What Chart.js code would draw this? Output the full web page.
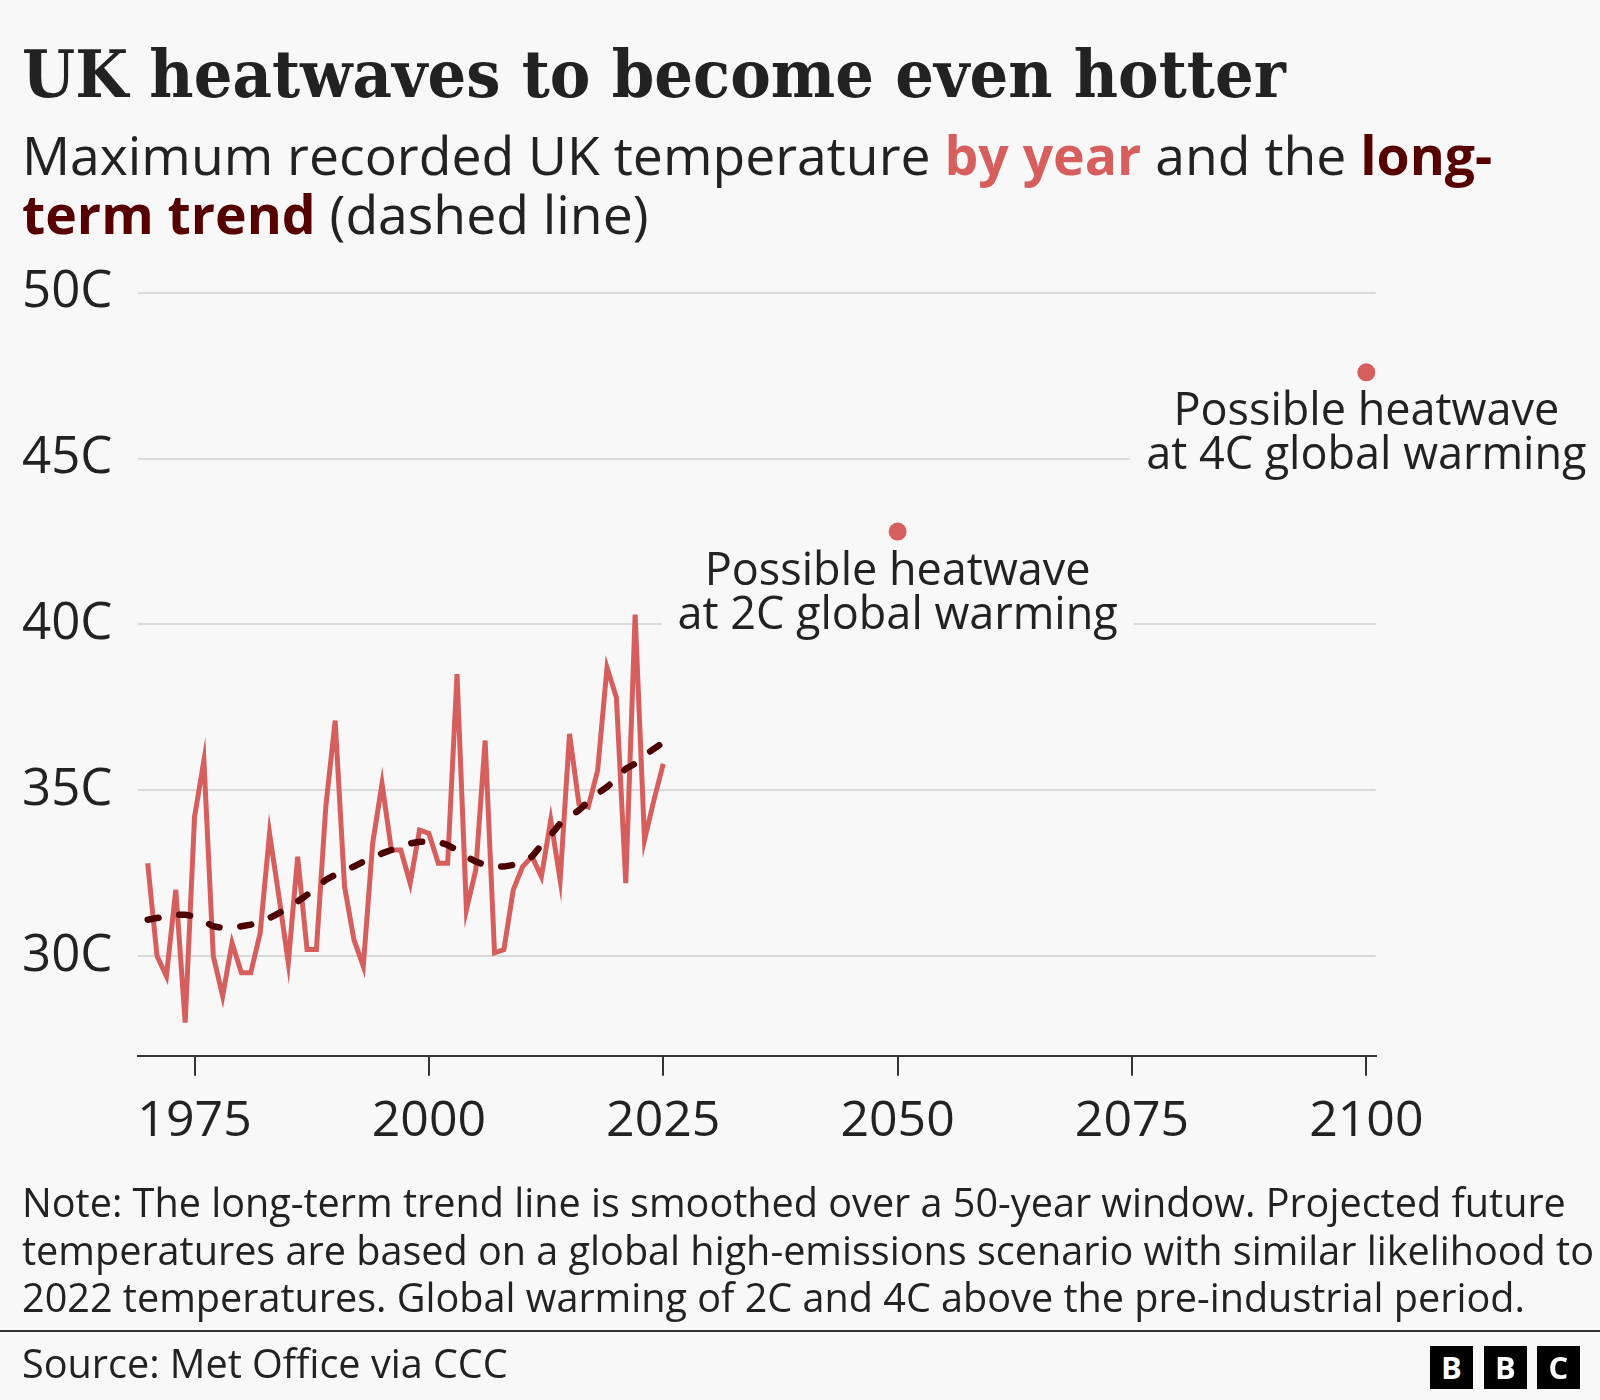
<!DOCTYPE html>
<html>
<head>
<meta charset="utf-8">
<script src="https://cdn.jsdelivr.net/npm/chart.js@4.4.1/dist/chart.umd.min.js"></script>
<style>
  body { margin: 0; background: #f8f8f8; font-family: 'Open Sans', sans-serif; color: #222; }
  #wrap { position: relative; width: 1600px; height: 1400px; overflow: hidden; }
  #chart { position: absolute; left: 0; top: 0; }
  .txt { position: absolute; left: 22px; white-space: nowrap; }
  #title { top: 39px; font-family: 'DejaVu Serif', serif; font-weight: bold; font-size: 66px; line-height: 70px; transform-origin: 0 0; }
  #subtitle { top: 125px; font-size: 53.5px; line-height: 59px; }
  #subtitle .yr { color: #d65e5d; font-weight: bold; }
  #subtitle .tr { color: #560000; font-weight: bold; }
  #note { top: 1179px; font-size: 39.6px; line-height: 47.5px; }
  #rule { position: absolute; left: 0; top: 1330px; width: 1600px; height: 2px; background: #333; }
  #source { top: 1343px; font-size: 39.6px; line-height: 40px; }
  .logo { position: absolute; top: 1346px; width: 43px; height: 43px; background: #000; color: #fff;
          font-family: 'Open Sans', sans-serif; font-weight: bold; font-size: 31px; line-height: 43px; text-align: center; }
</style>
</head>
<body>
<div id="wrap">
  <canvas id="chart" width="1600" height="1400"></canvas>
  <div id="title" class="txt">UK heatwaves to become even hotter</div>
  <div id="subtitle" class="txt">Maximum recorded UK temperature <span class="yr">by year</span> and the <span class="tr">long-</span><br><span class="tr">term trend</span> (dashed line)</div>
  <div id="note" class="txt">Note: The long-term trend line is smoothed over a 50-year window. Projected future<br>temperatures are based on a global high-emissions scenario with similar likelihood to<br>2022 temperatures. Global warming of 2C and 4C above the pre-industrial period.</div>
  <div id="rule"></div>
  <div id="source" class="txt">Source: Met Office via CCC</div>
  <div class="logo" style="left:1430px">B</div>
  <div class="logo" style="left:1484px">B</div>
  <div class="logo" style="left:1537px">C</div>
</div>
<script>
// yearly maximum temperature (C)
const years = [1970, 1971, 1972, 1973, 1974, 1975, 1976, 1977, 1978, 1979,
               1980, 1981, 1982, 1983, 1984, 1985, 1986, 1987, 1988, 1989,
               1990, 1991, 1992, 1993, 1994, 1995, 1996, 1997, 1998, 1999,
               2000, 2001, 2002, 2003, 2004, 2005, 2006, 2007, 2008, 2009,
               2010, 2011, 2012, 2013, 2014, 2015, 2016, 2017, 2018, 2019,
               2020, 2021, 2022, 2023, 2024, 2025];
const maxTemps = [32.8, 30.0, 29.4, 32.0, 28.0, 34.2, 35.9, 30.0, 28.8, 30.4,
                  29.5, 29.5, 30.7, 33.7, 31.8, 29.8, 33.0, 30.2, 30.2, 34.5,
                  37.1, 32.1, 30.5, 29.7, 33.4, 35.2, 33.2, 33.2, 32.2, 33.8,
                  33.7, 32.8, 32.8, 38.5, 31.4, 32.6, 36.5, 30.1, 30.2, 32.0,
                  32.7, 33.0, 32.4, 34.1, 32.3, 36.7, 34.6, 34.5, 35.6, 38.7,
                  37.8, 32.2, 40.3, 33.5, 34.7, 35.8];
// 50-year smoothed trend
const trendTemps = [31.1, 31.15, 31.2, 31.25, 31.25, 31.2, 31.05, 30.9, 30.85, 30.85,
                    30.9, 30.95, 31.05, 31.15, 31.3, 31.45, 31.65, 31.85, 32.05, 32.3,
                    32.45, 32.6, 32.7, 32.85, 32.95, 33.1, 33.2, 33.3, 33.4, 33.45,
                    33.45, 33.45, 33.35, 33.2, 33.0, 32.85, 32.75, 32.7, 32.7, 32.75,
                    32.85, 33.0, 33.35, 33.65, 34.0, 34.2, 34.4, 34.65, 34.9, 35.1,
                    35.35, 35.65, 35.8, 36.05, 36.25, 36.45];
// projected heatwaves
const projYears = [2050, 2100];
const projTemps = [42.8, 47.6];
const projLabels = [['Possible heatwave', 'at 2C global warming'],
                    ['Possible heatwave', 'at 4C global warming']];

const xTicks = [1975, 2000, 2025, 2050, 2075, 2100];
const yTicks = [30, 35, 40, 45, 50];

const red = '#d65e5d';
const maroon = '#4d0000';

// squeeze the serif title to the width of the original headline
const title = document.getElementById('title');
title.style.transform = 'scaleX(' + (1264 / title.offsetWidth) + ')';

const projLabelPlugin = {
    id: 'projLabels',
    afterDraw(chart) {
        const ctx = chart.ctx;
        const xs = chart.scales.x, ys = chart.scales.y;
        ctx.save();
        ctx.font = '45px "Open Sans"';
        ctx.textAlign = 'center';
        ctx.textBaseline = 'alphabetic';
        for (let i = 0; i < projYears.length; i++) {
            const px = xs.getPixelForValue(projYears[i]);
            const py = ys.getPixelForValue(projTemps[i]);
            const lines = projLabels[i];
            const w = Math.max(...lines.map(l => ctx.measureText(l).width)) + 32;
            ctx.fillStyle = '#f8f8f8';
            ctx.fillRect(px - w / 2, py + 14, w, 98);
            ctx.fillStyle = '#222';
            lines.forEach((l, j) => ctx.fillText(l, px, py + 53 + j * 44));
        }
        ctx.restore();
    }
};

new Chart(document.getElementById('chart'), {
    type: 'line',
    data: {
        datasets: [
            {
                data: years.map((y, i) => ({ x: y, y: trendTemps[i] })),
                borderColor: maroon,
                borderWidth: 6.5,
                borderDash: [11, 21],
                borderCapStyle: 'round',
                pointRadius: 0,
                tension: 0
            },
            {
                data: years.map((y, i) => ({ x: y, y: maxTemps[i] })),
                borderColor: red,
                borderWidth: 5,
                pointRadius: 0,
                tension: 0
            },
            {
                data: projYears.map((y, i) => ({ x: y, y: projTemps[i] })),
                showLine: false,
                pointRadius: 9,
                pointBackgroundColor: red,
                pointBorderWidth: 0
            }
        ]
    },
    options: {
        responsive: false,
        animation: false,
        layout: { padding: { left: 22, top: 292.7, right: 224.3, bottom: 244.3 } },
        plugins: { legend: { display: false }, tooltip: { enabled: false } },
        scales: {
            x: {
                type: 'linear',
                min: 1969,
                max: 2101,
                afterBuildTicks: ax => { ax.ticks = xTicks.map(v => ({ value: v })); },
                afterFit: ax => { ax.height = 100; },
                grid: { drawOnChartArea: false, tickLength: 20, color: '#333', lineWidth: 2 },
                border: { display: true, color: '#333', width: 2 },
                ticks: {
                    font: { family: 'Open Sans', size: 50 },
                    color: '#222',
                    padding: 16,
                    maxRotation: 0,
                    autoSkip: false,
                    callback: v => String(v)
                }
            },
            y: {
                min: 27,
                max: 50,
                afterBuildTicks: ax => { ax.ticks = yTicks.map(v => ({ value: v })); },
                afterFit: ax => { ax.width = 116.3; },
                grid: { color: '#d9d9d9', lineWidth: 2, drawTicks: false },
                border: { display: false },
                ticks: {
                    font: { family: 'Open Sans', size: 51 },
                    color: '#222',
                    crossAlign: 'far',
                    padding: 0,
                    callback: v => v + 'C'
                }
            }
        }
    },
    plugins: [projLabelPlugin]
});
</script>
</body>
</html>
